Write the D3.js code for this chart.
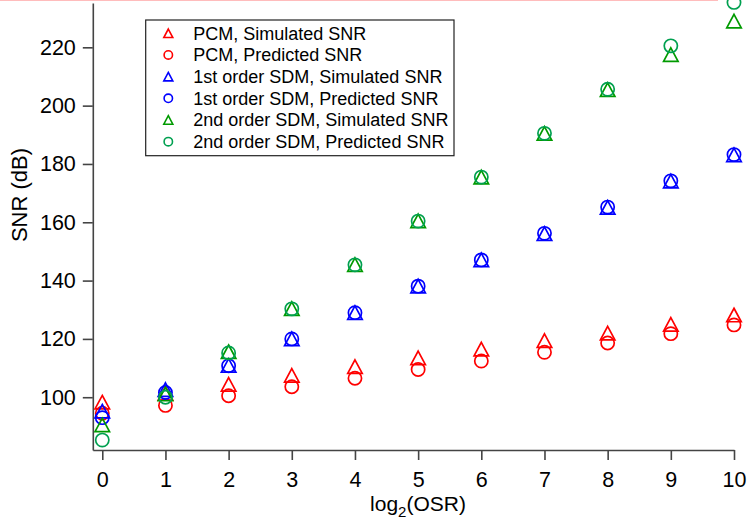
<!DOCTYPE html>
<html>
<head>
<meta charset="utf-8">
<script src="https://cdn.jsdelivr.net/npm/d3@7/dist/d3.min.js"></script>
<style>
  html, body { margin: 0; padding: 0; background: #fff; }
  svg { display: block; }
  text { font-family: "Liberation Sans", Arial, sans-serif; fill: #000; }
</style>
</head>
<body>
<svg id="chart" width="751" height="525"></svg>
<script>
// log2 of the oversampling ratio
const osrLog2 = [0, 1, 2, 3, 4, 5, 6, 7, 8, 9, 10];

// SNR in dB for each converter type
const pcmSimulated  = [98.3, 101.3, 104.4, 107.5, 110.5, 113.5, 116.5, 119.4, 122.0, 125.0, 128.2];
const pcmPredicted  = [94.5, 97.2, 100.5, 103.6, 106.5, 109.5, 112.4, 115.4, 118.6, 121.8, 124.8];
const sdm1Simulated = [95.2, 102.6, 110.9, 120.0, 129.0, 138.1, 147.1, 156.1, 165.1, 174.1, 183.1];
const sdm1Predicted = [93.0, 101.6, 110.8, 120.0, 129.0, 138.1, 147.1, 156.2, 165.2, 174.2, 183.2];
const sdm2Simulated = [90.5, 101.1, 115.6, 130.4, 145.5, 160.5, 175.5, 190.5, 205.5, 217.5, 229.0];
const sdm2Predicted = [85.3, 100.0, 115.2, 130.3, 145.4, 160.4, 175.5, 190.5, 205.6, 220.5, 235.4];

const yTicks = [100, 120, 140, 160, 180, 200, 220];
const xTicks = [0, 1, 2, 3, 4, 5, 6, 7, 8, 9, 10];

const seriesNames = [
  "PCM, Simulated SNR",
  "PCM, Predicted SNR",
  "1st order SDM, Simulated SNR",
  "1st order SDM, Predicted SNR",
  "2nd order SDM, Simulated SNR",
  "2nd order SDM, Predicted SNR"
];

const series = [
  { name: seriesNames[0], values: pcmSimulated,  shape: "triangle", color: "#ff0000" },
  { name: seriesNames[1], values: pcmPredicted,  shape: "circle",   color: "#ff0000" },
  { name: seriesNames[2], values: sdm1Simulated, shape: "triangle", color: "#0000ff" },
  { name: seriesNames[3], values: sdm1Predicted, shape: "circle",   color: "#0000ff" },
  { name: seriesNames[4], values: sdm2Simulated, shape: "triangle", color: "#009a00" },
  { name: seriesNames[5], values: sdm2Predicted, shape: "circle",   color: "#00a050" }
];

const svg = d3.select("#chart");

// thin pink rule along the top edge
svg.append("rect")
  .attr("x", 0).attr("y", 0).attr("width", 718).attr("height", 1)
  .attr("fill", "#ffbcbc");

const x = d3.scaleLinear().domain([-0.15, 10]).range([92.8, 734]);
const y = d3.scaleLinear().domain([81.9, 235.2]).range([450, 3]);

const axisColor = "#444";

const gx = svg.append("g")
  .attr("transform", "translate(0,450)")
  .call(d3.axisBottom(x).tickValues(xTicks).tickFormat(d3.format("d"))
    .tickSize(10).tickSizeOuter(0).tickPadding(12));

const gy = svg.append("g")
  .attr("transform", "translate(92.8,0)")
  .call(d3.axisLeft(y).tickValues(yTicks).tickFormat(d3.format("d"))
    .tickSize(10).tickSizeOuter(0).tickPadding(7));

[gx, gy].forEach(g => {
  g.select(".domain").attr("stroke", axisColor).attr("stroke-width", 1.6);
  g.selectAll(".tick line").attr("stroke", axisColor).attr("stroke-width", 1.6);
  g.selectAll(".tick text")
    .attr("font-size", 21.5)
    .attr("font-family", "'Liberation Sans', Arial, sans-serif")
    .attr("fill", "#000");
});

// axis titles
const xt = svg.append("text")
  .attr("x", 418).attr("y", 511)
  .attr("text-anchor", "middle")
  .attr("font-size", 21);
xt.append("tspan").text("log");
xt.append("tspan").attr("font-size", 15).attr("dy", 6).text("2");
xt.append("tspan").attr("dy", -6).text("(OSR)");

svg.append("text")
  .attr("transform", "translate(27,195) rotate(-90)")
  .attr("text-anchor", "middle")
  .attr("font-size", 22)
  .text("SNR (dB)");

// marker shapes
function trianglePath(w, h) {
  return `M0,${-h / 2}L${w / 2},${h / 2}L${-w / 2},${h / 2}Z`;
}

function drawMarker(g, shape, color, size) {
  if (shape === "circle") {
    g.append("circle").attr("r", size.r)
      .attr("fill", "none").attr("stroke", color).attr("stroke-width", size.sw);
  } else {
    g.append("path").attr("d", trianglePath(size.tw, size.th))
      .attr("fill", "none").attr("stroke", color).attr("stroke-width", size.sw)
      .attr("stroke-linejoin", "miter");
  }
}

const dataSize = { r: 6.6, tw: 14.5, th: 13.5, sw: 1.7 };
const plot = svg.append("g");

series.forEach(s => {
  plot.append("g").selectAll("g")
    .data(s.values.map((v, i) => ({ k: osrLog2[i], v })))
    .join("g")
    .attr("transform", d => `translate(${x(d.k)},${y(d.v)})`)
    .each(function () { drawMarker(d3.select(this), s.shape, s.color, dataSize); });
});

// legend
const legend = svg.append("g");
legend.append("rect")
  .attr("x", 145.7).attr("y", 20).attr("width", 308.3).attr("height", 135.7)
  .attr("fill", "#fff").attr("stroke", "#222").attr("stroke-width", 1.2);

const legendSize = { r: 4.2, tw: 9, th: 8.5, sw: 1.6 };
series.forEach((s, i) => {
  const row = legend.append("g").attr("transform", `translate(0,${33.3 + i * 21.67})`);
  const m = row.append("g").attr("transform", "translate(168.3,0)");
  drawMarker(m, s.shape, s.color, legendSize);
  row.append("text")
    .attr("x", 193.3).attr("y", 0).attr("dy", "0.36em")
    .attr("font-size", 18)
    .text(s.name);
});
</script>
</body>
</html>
